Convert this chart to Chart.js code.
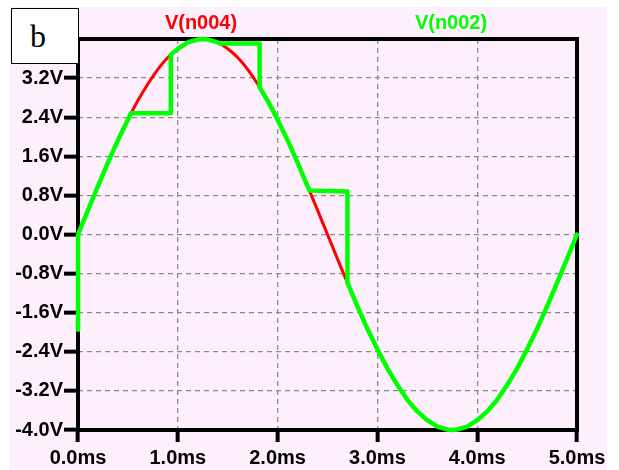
<!DOCTYPE html>
<html>
<head>
<meta charset="utf-8">
<script src="https://cdn.jsdelivr.net/npm/chart.js@4/dist/chart.umd.min.js"></script>
<style>
  html, body { margin: 0; padding: 0; background: #ffffff; }
  #wrap { position: relative; width: 619px; height: 470px; overflow: hidden; }
  #c { position: absolute; left: 0; top: 0; }
  .ttl { position: absolute; width: 140px; text-align: center; font: bold 20px "Liberation Sans", Arial, sans-serif; line-height: 20px; white-space: nowrap; }
  #box { position: absolute; left: 11px; top: 8px; width: 66px; height: 54px; border: 1px solid #000; background: #fff; }
  #boxlbl { position: absolute; left: 30px; top: 20px; font: 32px "Liberation Serif", "Times New Roman", serif; line-height: 32px; color: #000; }
</style>
</head>
<body>
<div id="wrap">
  <canvas id="c" width="619" height="470"></canvas>
  <div class="ttl" id="t1" style="left:131px; top:12px; color:#ff0000;">V(n004)</div>
  <div class="ttl" id="t2" style="left:381px; top:12px; color:#00ff00;">V(n002)</div>
  <div id="box"></div>
  <div id="boxlbl">b</div>
</div>
<script>
// ---- data ----
const redT = [0,0.1,0.2,0.3,0.4,0.5,0.6,0.7,0.8,0.9,1.0,1.1,1.2,1.25,1.3,1.4,1.5,1.6,1.7,1.8,1.9,2.0,2.1,2.2,2.3,2.4,2.5,
              2.6,2.7,2.8,2.9,3.0,3.1,3.2,3.3,3.4,3.5,3.6,3.7,3.75,3.8,3.9,4.0,4.1,4.2,4.3,4.4,4.5,4.6,4.7,4.8,4.9,5.0];
const redV = [0,0.50,0.99,1.47,1.93,2.35,2.74,3.08,3.38,3.62,3.80,3.93,3.99,4.00,3.99,3.93,3.80,3.62,3.38,3.08,2.74,2.35,1.93,1.47,0.99,0.50,0,
              -0.50,-0.99,-1.47,-1.93,-2.35,-2.74,-3.08,-3.38,-3.62,-3.80,-3.93,-3.99,-4.00,-3.99,-3.93,-3.80,-3.62,-3.38,-3.08,-2.74,-2.35,-1.93,-1.47,-0.99,-0.50,0];

const greenT = [0,0,0.1,0.2,0.3,0.4,0.5,0.53,0.93,0.93,1.0,1.1,1.2,1.25,1.3,1.4,1.42,1.82,1.82,1.9,2.0,2.1,2.2,2.3,2.32,2.70,2.70,
                2.8,2.9,3.0,3.1,3.2,3.3,3.4,3.5,3.6,3.7,3.75,3.8,3.9,4.0,4.1,4.2,4.3,4.4,4.5,4.6,4.7,4.8,4.9,5.0];
const greenV = [-1.95,0,0.50,0.99,1.47,1.93,2.35,2.48,2.48,3.68,3.80,3.93,3.99,4.00,3.99,3.93,3.91,3.91,3.01,2.74,2.35,1.93,1.47,0.99,0.90,0.88,-0.99,
                -1.47,-1.93,-2.35,-2.74,-3.08,-3.38,-3.62,-3.80,-3.93,-3.99,-4.00,-3.99,-3.93,-3.80,-3.62,-3.38,-3.08,-2.74,-2.35,-1.93,-1.47,-0.99,-0.50,0];

const xTicks = [0,1,2,3,4,5];
const xTickLabels = ['0.0ms','1.0ms','2.0ms','3.0ms','4.0ms','5.0ms'];
const yTicks = [-4.0,-3.2,-2.4,-1.6,-0.8,0.0,0.8,1.6,2.4,3.2,4.0];
const yTickLabels = ['-4.0V','-3.2V','-2.4V','-1.6V','-0.8V','0.0V','0.8V','1.6V','2.4V','3.2V','4.0V'];
const seriesNames = ['V(n004)','V(n002)'];

// ---- chart ----
const redData = redT.map((t,i)=>({x:t,y:redV[i]}));
const greenData = greenT.map((t,i)=>({x:t,y:greenV[i]}));

const bgPlugin = {
  id: 'bg',
  beforeDraw(chart) {
    const ctx = chart.ctx;
    ctx.save();
    ctx.fillStyle = '#ffffff';
    ctx.fillRect(0,0,chart.width,chart.height);
    ctx.fillStyle = '#fdf0fc';
    ctx.fillRect(10,7,597,463);
    ctx.restore();
  },
  beforeDatasetsDraw(chart) {
    const a = chart.chartArea, ctx = chart.ctx;
    ctx.save();
    ctx.strokeStyle = '#000';
    ctx.lineWidth = 4;
    ctx.lineJoin = 'miter';
    ctx.strokeRect(a.left, a.top, a.right - a.left, a.bottom - a.top);
    ctx.restore();
  }
};

const tickFont = { family: '"Liberation Sans", Arial, sans-serif', size: 20, weight: 'bold' };

new Chart(document.getElementById('c'), {
  type: 'line',
  data: {
    datasets: [
      { label: seriesNames[1], data: greenData, borderColor: '#00ff00', borderWidth: 4.5, pointRadius: 0,
        tension: 0, borderJoinStyle: 'round', borderCapStyle: 'round', clip: false, order: 0 },
      { label: seriesNames[0], data: redData, borderColor: '#ff0000', borderWidth: 3, pointRadius: 0,
        cubicInterpolationMode: 'monotone', clip: false, order: 1 }
    ]
  },
  options: {
    responsive: false,
    animation: false,
    devicePixelRatio: 1,
    layout: { padding: { left: 0, top: 39, right: 42, bottom: 0 } },
    plugins: { legend: { display: false }, tooltip: { enabled: false } },
    scales: {
      x: {
        type: 'linear', min: 0, max: 5,
        afterBuildTicks(s) { s.ticks = xTicks.map(v => ({ value: v })); },
        afterFit(s) { s.height = 40; },
        ticks: { callback: (v, i) => xTickLabels[i], color: '#000', font: tickFont, padding: 4, maxRotation: 0, autoSkip: false },
        grid: { color: '#8a8a8a', lineWidth: 1.3, drawTicks: true, tickLength: 12, tickWidth: 4, tickColor: '#000', tickBorderDash: [] },
        border: { display: false, dash: [5,4] }
      },
      y: {
        type: 'linear', min: -4, max: 4,
        afterBuildTicks(s) { s.ticks = yTicks.map(v => ({ value: v })); },
        afterFit(s) { s.width = 78; },
        ticks: { callback: (v, i) => yTickLabels[i], color: '#000', font: tickFont, padding: 1, autoSkip: false },
        grid: { color: '#8a8a8a', lineWidth: 1.3, drawTicks: true, tickLength: 14, tickWidth: 4, tickColor: '#000', tickBorderDash: [] },
        border: { display: false, dash: [5,4] }
      }
    }
  },
  plugins: [bgPlugin]
});
</script>
</body>
</html>
